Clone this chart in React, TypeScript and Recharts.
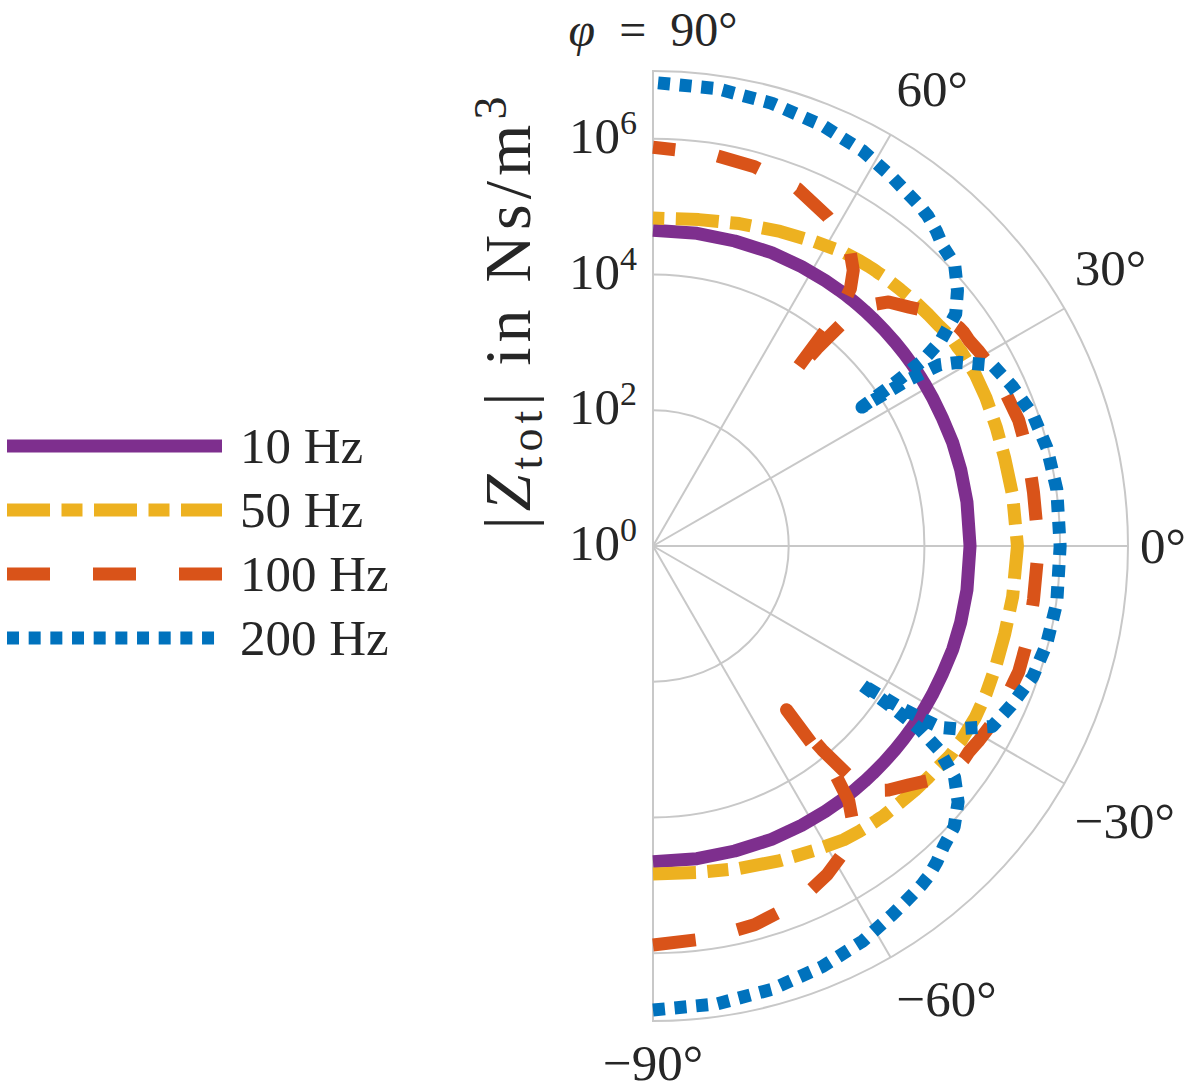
import React from 'react';
import {
  RadarChart,
  Radar,
  PolarGrid,
  PolarAngleAxis,
  PolarRadiusAxis,
  Legend
} from 'recharts';

const FONT = '"Liberation Serif", "Times New Roman", serif';
const TEXT = '#262626';

// incidence angle phi in degrees, from -90 to 90
const angles = [
  -90, -82, -75, -68, -62, -57, -54, -52.5, -51.5, -50.8, -50.3, -49.5, -48, -46, -43,
  -40, -37.5, -35.5, -34.5, -34, -33.6, -33.1, -32.3, -31, -28, -24, -19, -14, -8,
  0,
  8, 14, 19, 24, 28, 31, 32.3, 33.1, 33.6, 34, 34.5, 35.5, 37.5, 40,
  43, 46, 48, 49.5, 50.3, 50.8, 51.5, 52.5, 54, 57, 62, 68, 75, 82, 90
];

// |Z_tot| in Ns/m^3 at each angle
const z10 = [
  4.5e4, 4.5e4, 4.5e4, 4.6e4, 4.6e4, 4.6e4, 4.6e4, 4.6e4, 4.6e4, 4.6e4, 4.6e4, 4.6e4, 4.6e4, 4.6e4, 4.6e4,
  4.6e4, 4.6e4, 4.6e4, 4.6e4, 4.6e4, 4.6e4, 4.6e4, 4.6e4, 4.6e4, 4.6e4, 4.6e4, 4.7e4, 4.7e4, 4.7e4,
  4.7e4,
  4.7e4, 4.7e4, 4.7e4, 4.6e4, 4.6e4, 4.6e4, 4.6e4, 4.6e4, 4.6e4, 4.6e4, 4.6e4, 4.6e4, 4.6e4, 4.6e4,
  4.6e4, 4.6e4, 4.6e4, 4.6e4, 4.6e4, 4.6e4, 4.6e4, 4.6e4, 4.6e4, 4.6e4, 4.6e4, 4.6e4, 4.5e4, 4.5e4, 4.5e4
];

const z50 = [
  6.8e4, 7.2e4, 8.3e4, 1.0e5, 1.2e5, 1.45e5, 1.55e5, 1.6e5, 1.63e5, 1.65e5, 1.66e5, 1.7e5, 1.72e5, 1.78e5, 1.9e5,
  2.0e5, 2.1e5, 2.25e5, 2.3e5, 2.3e5, 2.3e5, 2.3e5, 2.35e5, 2.35e5, 2.4e5, 2.35e5, 2.25e5, 2.2e5, 2.25e5,
  2.35e5,
  2.25e5, 2.2e5, 2.25e5, 2.35e5, 2.4e5, 2.35e5, 2.35e5, 2.3e5, 2.3e5, 2.3e5, 2.3e5, 2.25e5, 2.1e5, 2.0e5,
  1.9e5, 1.78e5, 1.72e5, 1.7e5, 1.66e5, 1.65e5, 1.63e5, 1.6e5, 1.55e5, 1.45e5, 1.2e5, 1.0e5, 8.3e4, 7.2e4, 6.8e4
];

const z100 = [
  7.6e5, 6.9e5, 6.0e5, 4.7e5, 3.0e5, 1.9e5, 1.0e5, 5.5e4, 2.2e4, 1.3e3, 8.0e3, 3.2e4, 7.0e4, 1.0e5, 1.45e5,
  2.3e5, 3.0e5, 3.5e5, 3.6e5, 3.6e5, 3.6e5, 3.6e5, 3.7e5, 3.9e5, 4.3e5, 4.6e5, 5.0e5, 4.9e5, 4.6e5,
  4.8e5,
  4.6e5, 4.9e5, 5.0e5, 4.6e5, 4.3e5, 3.9e5, 3.7e5, 3.6e5, 3.6e5, 3.6e5, 3.6e5, 3.5e5, 3.0e5, 2.3e5,
  1.45e5, 1.0e5, 6.0e4, 2.8e4, 6.0e3, 1.6e3, 2.6e4, 6.0e4, 1.05e5, 2.0e5, 3.1e5, 4.8e5, 6.1e5, 7.0e5, 7.5e5
];

const z200 = [
  6.9e6, 6.5e6, 5.8e6, 4.8e6, 3.9e6, 3.0e6, 2.6e6, 2.45e6, 2.35e6, 2.25e6, 2.2e6, 2.05e6, 1.8e6, 1.45e6, 1.17e6,
  7.4e5, 4.0e5, 1.5e5, 6.0e4, 1.9e4, 4.8e3, 2.6e4, 1.0e5, 1.7e5, 4.6e5, 6.0e5, 8.3e5, 9.5e5, 1.02e6,
  1.0e6,
  1.02e6, 9.6e5, 8.4e5, 6.2e5, 4.7e5, 1.8e5, 1.0e5, 2.8e4, 5.0e3, 2.0e4, 6.5e4, 1.6e5, 4.2e5, 7.2e5,
  1.2e6, 1.4e6, 1.75e6, 2.0e6, 2.15e6, 2.2e6, 2.3e6, 2.4e6, 2.55e6, 3.0e6, 3.9e6, 4.8e6, 5.7e6, 6.4e6, 6.8e6
];

const radiusTicks = [1, 1e2, 1e4, 1e6, 1e7];
const angleTicks = [-90, -60, -30, 0, 30, 60, 90];

const series = [
  { key: 'z10', name: '10 Hz', color: '#7E2F8E', dash: undefined },
  { key: 'z50', name: '50 Hz', color: '#EDB120', dash: '43 11.5 21 11.5' },
  { key: 'z100', name: '100 Hz', color: '#D95319', dash: '43 43' },
  { key: 'z200', name: '200 Hz', color: '#0072BD', dash: '12 9.67' }
];

const data = angles.map((angle, i) => ({
  angle,
  z10: z10[i],
  z50: z50[i],
  z100: z100[i],
  z200: z200[i]
}));

// radar closes its polygon; these curves stay open at +-90 deg
const OpenCurve = (props: any) => {
  const { points, stroke, strokeWidth, strokeDasharray } = props;
  if (!points || !points.length) return null;
  const d = points.map((p: any, i: number) => `${i ? 'L' : 'M'}${p.x},${p.y}`).join(' ');
  return (
    <path
      d={d}
      fill="none"
      stroke={stroke}
      strokeWidth={strokeWidth}
      strokeDasharray={strokeDasharray}
      strokeLinejoin="round"
    />
  );
};

const RadiusTick = (props: any) => {
  const { x, y, payload } = props;
  if (payload.value >= 1e7) return <g />;
  const exp = Math.round(Math.log10(payload.value));
  return (
    <text x={x - 16} y={y + 14} textAnchor="end" fontFamily={FONT} fontSize={51} fill={TEXT}>
      10
      <tspan dy={-19} fontSize={34}>{exp}</tspan>
    </text>
  );
};

const AngleTick = (props: any) => {
  const { x, y, payload } = props;
  const v = payload.value;
  let anchor = 'start';
  let by = y - 18;
  if (v === 90) {
    anchor = 'middle';
    by = y - 13;
  } else if (v === -90) {
    anchor = 'middle';
    by = y + 47;
  } else if (v === 0) {
    by = y + 17;
  } else if (v < 0) {
    by = y + 48;
  }
  const label = `${v < 0 ? '\u2212' : ''}${Math.abs(v)}\u00b0`;
  return (
    <text x={x} y={by} textAnchor={anchor} fontFamily={FONT} fontSize={v === 90 ? 48 : 51} fill={TEXT}>
      {v === 90 ? (
        <>
          <tspan fontStyle="italic">{'\u03c6'}</tspan>
          {'\u2002=\u2002'}
          {label}
        </>
      ) : label}
    </text>
  );
};

const RadiusLabel = (props: any) => {
  const vb = props.viewBox || {};
  const cx = vb.cx ?? 653;
  const cy = vb.cy ?? 546;
  return (
    <text
      transform={`translate(${cx - 123}, ${cy - 233}) rotate(-90)`}
      textAnchor="middle"
      fontFamily={FONT}
      fontSize={66}
      fill={TEXT}
      textLength={433}
      lengthAdjust="spacing"
    >
      |<tspan fontStyle="italic">Z</tspan>
      <tspan fontSize={46} dy={12}>tot</tspan>
      <tspan dy={-12}>| in Ns/m</tspan>
      <tspan fontSize={46} dy={-24}>3</tspan>
    </text>
  );
};

const renderLegend = (props: any) => {
  const payload = props.payload ?? [];
  const shown = series.filter((s) => payload.some((entry: any) => entry.value === s.name));
  return (
    <div style={{ fontFamily: FONT, position: 'relative', top: -4 }}>
      {shown.map((s) => (
        <div key={s.key} style={{ display: 'flex', alignItems: 'center', height: 64 }}>
          <svg width={215} height={20} style={{ display: 'block' }}>
            <line x1={0} y1={10} x2={215} y2={10} stroke={s.color} strokeWidth={13} strokeDasharray={s.dash} />
          </svg>
          <span style={{ marginLeft: 18, fontSize: 51, color: TEXT, lineHeight: '64px', whiteSpace: 'nowrap' }}>
            {s.name}
          </span>
        </div>
      ))}
    </div>
  );
};

export default function App() {
  return (
    <div style={{ position: 'absolute', left: 0, top: 0, width: 1200, height: 1092, background: '#fff' }}>
      <RadarChart
        width={1200}
        height={1092}
        data={data}
        cx={653}
        cy={546}
        innerRadius={0}
        outerRadius={475}
        startAngle={-90}
        endAngle={90}
        margin={{ top: 0, right: 0, bottom: 0, left: 0 }}
      >
        <defs>
          <clipPath id="rightHalf">
            <rect x={652} y={0} width={548} height={1092} />
          </clipPath>
        </defs>
        <g clipPath="url(#rightHalf)">
          <PolarGrid gridType="circle" stroke="#c8c8c8" strokeWidth={2} clipPath="url(#rightHalf)" />
        </g>
        <PolarAngleAxis
          dataKey="angle"
          type="number"
          domain={[-90, 90]}
          ticks={angleTicks}
          axisLine={false}
          tickLine={false}
          tickSize={12}
          tick={AngleTick}
        />
        <PolarRadiusAxis
          angle={90}
          type="number"
          scale="log"
          domain={[1, 1e7]}
          ticks={radiusTicks}
          axisLine={false}
          tickLine={false}
          tick={RadiusTick}
          label={<RadiusLabel />}
        />
        {series.map((s) => (
          <Radar
            key={s.key}
            dataKey={s.key}
            name={s.name}
            stroke={s.color}
            strokeWidth={13}
            strokeDasharray={s.dash}
            fill="none"
            dot={false}
            isAnimationActive={false}
            shape={(p: any) => <OpenCurve {...p} />}
          />
        ))}
        <Legend
          layout="vertical"
          align="center"
          verticalAlign="middle"
          wrapperStyle={{ left: 7, top: 418, width: 420 }}
          content={renderLegend}
        />
      </RadarChart>
    </div>
  );
}
